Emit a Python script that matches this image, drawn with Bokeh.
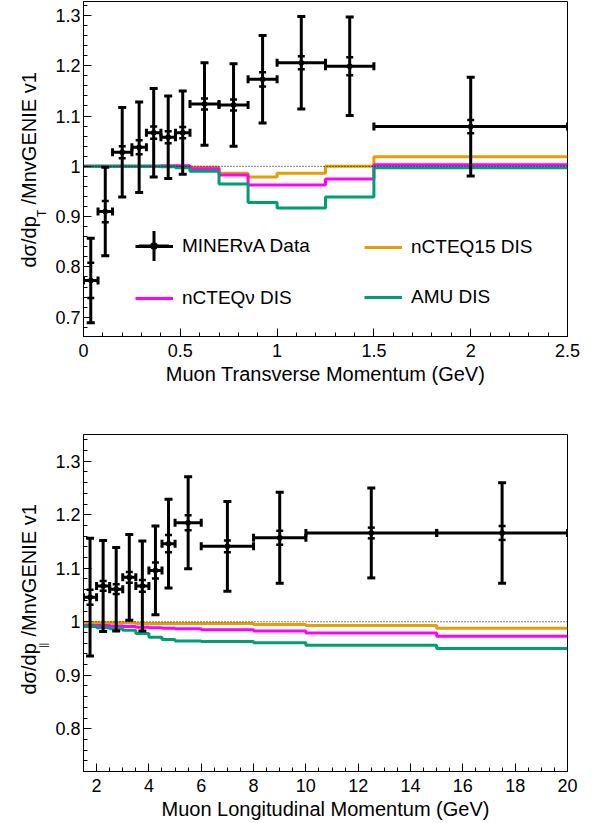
import numpy as np
from bokeh.plotting import figure
from bokeh.models import (Range1d, FixedTicker, Label, Legend, LegendItem, Span,
                          ColumnDataSource)
from bokeh.layouts import column, row
from bokeh.embed import file_html
from bokeh.resources import INLINE
from bokeh.core.properties import value

# ---------------- data: muon transverse momentum ----------------
pt_edges = [0, 0.075, 0.15, 0.25, 0.325, 0.4, 0.475, 0.55, 0.7, 0.85, 1.0, 1.25, 1.5, 2.5]
pt_data = [0.773, 0.910, 1.028, 1.038, 1.067, 1.058, 1.067, 1.124, 1.122, 1.173, 1.206, 1.199, 1.079]
pt_tot_err = [0.084, 0.088, 0.089, 0.090, 0.088, 0.082, 0.083, 0.082, 0.082, 0.087, 0.092, 0.098, 0.098]
pt_stat_err = [0.035, 0.021, 0.012, 0.014, 0.012, 0.012, 0.011, 0.011, 0.011, 0.014, 0.013, 0.018, 0.013]
pt_ncteq15 = [1.0, 1.0, 1.0, 1.0, 1.0, 1.0, 1.0, 0.998, 0.986, 0.979, 0.986, 1.000, 1.019]
pt_ncteqnu = [1.0, 1.0, 1.0, 1.0, 1.0, 1.001, 1.001, 0.995, 0.983, 0.963, 0.963, 0.975, 1.003]
pt_amu = [1.0, 1.0, 1.0, 1.0, 1.0, 0.999, 0.997, 0.990, 0.965, 0.928, 0.917, 0.939, 0.997]

# ---------------- data: muon longitudinal momentum ----------------
pl_edges = [1.5, 2, 2.5, 3, 3.5, 4, 4.5, 5, 6, 8, 10, 15, 20]
pl_data = [1.046, 1.067, 1.061, 1.083, 1.067, 1.096, 1.146, 1.185, 1.141, 1.157, 1.166, 1.166]
pl_tot_err = [0.110, 0.085, 0.078, 0.080, 0.084, 0.083, 0.083, 0.086, 0.084, 0.085, 0.084, 0.094]
pl_stat_err = [0.014, 0.009, 0.009, 0.010, 0.011, 0.015, 0.016, 0.014, 0.011, 0.013, 0.010, 0.013]
pl_ncteq15 = [0.998, 0.998, 0.998, 0.998, 0.997, 0.997, 0.997, 0.997, 0.997, 0.995, 0.993, 0.988]
pl_ncteqnu = [0.993, 0.993, 0.992, 0.991, 0.990, 0.989, 0.988, 0.987, 0.985, 0.983, 0.979, 0.973]
pl_amu = [0.991, 0.989, 0.987, 0.984, 0.978, 0.971, 0.967, 0.964, 0.963, 0.961, 0.956, 0.950]

# ---------------- axes ----------------
pt_xticks = [0, 0.5, 1, 1.5, 2, 2.5]
pt_xlabels = {0: "0", 1: "1", 2: "2"}
pt_yticks = [0.7, 0.8, 0.9, 1.0, 1.1, 1.2, 1.3]
pl_xticks = [2, 4, 6, 8, 10, 12, 14, 16, 18, 20]
pl_yticks = [0.8, 0.9, 1.0, 1.1, 1.2, 1.3]
y_labels = {1: "1"}

series_names = ["MINERvA Data", "nCTEQ15 DIS", "nCTEQν DIS", "AMU DIS"]
pt_title = "Muon Transverse Momentum (GeV)"
pl_title = "Muon Longitudinal Momentum (GeV)"
ytitle_main = "dσ/dp"
ytitle_rest = "/MnvGENIE v1"
pt_sub = "T"
pl_sub = "||"

FONT = "Liberation Sans"
ORANGE = "#E69F00"
MAGENTA = "#FF00FF"
GREEN = "#009E73"
YLAB_W = 50
MAIN_W = 552 - (YLAB_W - 45)


def make_panel(edges, data, tot, stat, m15, mnu, mamu, xr, yr, xticks, xminor,
               yticks, yminor, xlabels, xtitle, height, btop, bbottom):
    p = figure(width=MAIN_W, height=height, x_range=Range1d(*xr), y_range=Range1d(*yr),
               output_backend="svg", toolbar_location=None, title=None,
               min_border_left=83 - YLAB_W, min_border_right=30, min_border_top=btop,
               min_border_bottom=bbottom)
    p.grid.visible = False
    p.outline_line_color = "black"
    p.outline_line_width = 1
    p.background_fill_color = "white"
    p.border_fill_color = "white"

    for ax, ticks, minor, over in ((p.xaxis[0], xticks, xminor, xlabels),
                                   (p.yaxis[0], yticks, yminor, y_labels)):
        ax.ticker = FixedTicker(ticks=ticks, minor_ticks=minor)
        ax.major_label_overrides = over
        ax.major_tick_in = 8
        ax.major_tick_out = 0
        ax.minor_tick_in = 4
        ax.minor_tick_out = 0
        ax.axis_line_color = "black"
        ax.major_tick_line_color = "black"
        ax.minor_tick_line_color = "black"
        ax.major_label_text_font = FONT
        ax.major_label_text_font_size = "18px"
        ax.major_label_text_color = "black"
    p.xaxis.major_label_standoff = 7
    p.yaxis.major_label_standoff = 3
    p.xaxis.axis_label = xtitle
    p.xaxis.axis_label_text_font = FONT
    p.xaxis.axis_label_text_font_size = "20px"
    p.xaxis.axis_label_text_font_style = "normal"
    p.xaxis.axis_label_text_color = "black"
    p.xaxis.axis_label_standoff = 3

    lo = np.array(edges[:-1], dtype=float)
    hi = np.array(edges[1:], dtype=float)
    xc = (lo + hi) / 2
    y = np.array(data)
    et = np.array(tot)
    es = np.array(stat)

    # model step histograms
    steps = []
    for vals, col in ((m15, ORANGE), (mnu, MAGENTA), (mamu, GREEN)):
        r = p.step(x=list(edges), y=list(vals) + [vals[-1]], mode="after",
                   line_width=3, line_color=col)
        steps.append(r)

    p.add_layout(Span(location=1.0, dimension="width", line_color="black",
                      line_width=1, line_dash="1 2"))

    src = ColumnDataSource(dict(xc=xc, lo=lo, hi=hi, y=y, ylo=y - et, yhi=y + et,
                                slo=y - es, shi=y + es))
    kw = dict(source=src, line_color="black", line_width=3)
    p.segment(x0="xc", y0="ylo", x1="xc", y1="yhi", **kw)
    r_xerr = p.segment(x0="lo", y0="y", x1="hi", y1="y", **kw)
    p.scatter("xc", "ylo", marker="dash", size=8, **kw)
    p.scatter("xc", "yhi", marker="dash", size=8, **kw)
    p.scatter("lo", "y", marker="dash", angle=np.pi / 2, size=8, **kw)
    p.scatter("hi", "y", marker="dash", angle=np.pi / 2, size=8, **kw)
    p.scatter("xc", "slo", marker="dash", size=7, source=src, line_color="black", line_width=2.5)
    p.scatter("xc", "shi", marker="dash", size=7, source=src, line_color="black", line_width=2.5)
    p.scatter("xc", "y", marker="circle", size=5, source=src, color="black")

    # legend-only glyphs for the data symbol (vertical bar + dot)
    lsrc = ColumnDataSource(dict(x=xc[:1], y=y[:1]))
    r_cross = p.scatter("x", "y", marker="cross", source=lsrc, line_color="black",
                        line_width=3, visible=False)
    r_dot = p.scatter("x", "y", marker="dot", source=lsrc, line_color="black",
                      fill_color="black", line_width=3, visible=False)
    return p, steps, r_xerr, [r_cross, r_dot]


def add_legend(p, label, renderers, loc, gw, gh, standoff):
    lg = Legend(items=[LegendItem(label=value(label), renderers=renderers)],
                location=loc, glyph_width=gw, glyph_height=gh, label_height=gh,
                label_standoff=standoff, padding=0, margin=0, spacing=0,
                border_line_alpha=0, background_fill_alpha=0,
                label_text_font=FONT, label_text_font_size="19px",
                label_text_color="black")
    p.add_layout(lg, "center")


# ---------------- top panel ----------------
pt_minor_x = [round(0.1 * i, 2) for i in range(0, 26)]
pt_minor_y = [round(0.66 + 0.02 * i, 2) for i in range(0, 34)]
p1, steps1, xerr1, data_leg = make_panel(pt_edges, pt_data, pt_tot_err, pt_stat_err,
                                         pt_ncteq15, pt_ncteqnu, pt_amu,
                                         (0, 2.5), (0.66157, 1.3278), pt_xticks, pt_minor_x,
                                         pt_yticks, pt_minor_y, pt_xlabels, pt_title,
                                         400, 1, 64)

add_legend(p1, series_names[0], [xerr1], (52, 79), 38, 22, 9)
add_legend(p1, " ", data_leg, (33, 53), 75, 75, 0)
add_legend(p1, series_names[1], [steps1[0]], (281, 78), 38, 22, 9)
add_legend(p1, series_names[2], [steps1[1]], (52, 27), 38, 22, 9)
add_legend(p1, series_names[3], [steps1[2]], (281, 28), 38, 22, 9)

# ---------------- bottom panel ----------------
pl_minor_x = [1.5 + 0.5 * i for i in range(0, 38)]
pl_minor_y = [round(0.72 + 0.02 * i, 2) for i in range(0, 32)]
p2, steps2, _, _ = make_panel(pl_edges, pl_data, pl_tot_err, pl_stat_err,
                              pl_ncteq15, pl_ncteqnu, pl_amu,
                              (1.5, 20), (0.7202, 1.35), pl_xticks, pl_minor_x,
                              pl_yticks, pl_minor_y, {}, pl_title, 423, 34, 52)

# ---------------- y-axis titles (rotated, with subscripts) ----------------
TOTAL_H = 400 + 423
ylab = figure(width=YLAB_W, height=TOTAL_H, x_axis_type=None, y_axis_type=None,
              output_backend="svg", toolbar_location=None, title=None,
              min_border=0, x_range=Range1d(0, 1), y_range=Range1d(0, 1))
ylab.grid.visible = False
ylab.outline_line_color = None


def lab(text, x, page_y, size):
    ylab.add_layout(Label(x=x, y=TOTAL_H - page_y, x_units="screen", y_units="screen",
                          text=text, angle=np.pi / 2, text_align="left",
                          text_baseline="alphabetic", text_font=FONT,
                          text_font_size=size, text_color="black"))


lab(ytitle_main, 28, 267, "20px")
lab(pt_sub, 41.5, 216.5, "12px")
lab(ytitle_rest, 28, 204, "20px")

lab(ytitle_main, 28, 694, "20px")
lab(pl_sub, 43, 647.5, "10px")
lab(ytitle_rest, 28, 636, "20px")

layout = row(ylab, column(p1, p2, spacing=0), spacing=0)
open("out.html", "w").write(file_html(layout, INLINE))
